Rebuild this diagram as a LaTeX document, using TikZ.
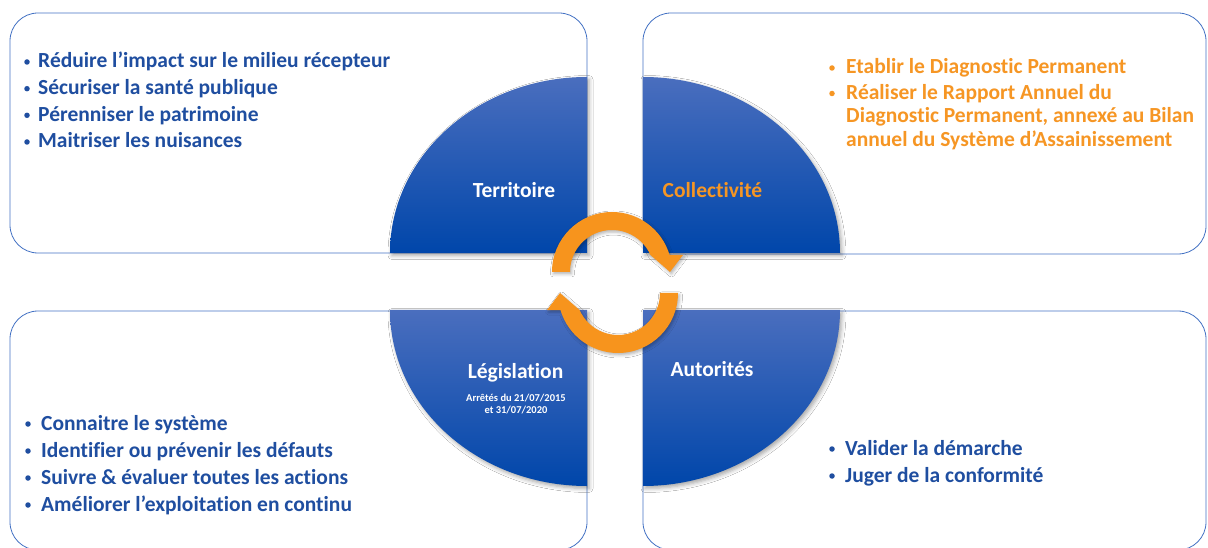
\documentclass[tikz,border=0pt]{standalone}
\usepackage{fontspec}
\setmainfont{Carlito}[Ligatures=NoCommon]
\usetikzlibrary{shadows.blur,calc}
\definecolor{boxblue}{RGB}{68,114,196}
\definecolor{txtblue}{RGB}{31,78,160}
\definecolor{txtorange}{RGB}{246,150,36}
\definecolor{arrorange}{RGB}{247,148,29}
\definecolor{qtop}{RGB}{74,110,190}
\definecolor{qmid}{RGB}{16,82,184}
\definecolor{qbot}{RGB}{0,70,170}
\tikzset{
  panel/.style={draw=boxblue, line width=0.8pt, rounded corners=28pt, fill=white},
  quarter/.style={top color=qtop, middle color=qmid, bottom color=qbot,
    blur shadow={shadow xshift=2pt, shadow yshift=-2.5pt, shadow blur radius=4pt, shadow opacity=35}},
  qlabel/.style={font=\fontsize{21.5}{26}\selectfont\bfseries, text=white, inner sep=0pt, anchor=base},
  qsub/.style={font=\fontsize{10.5}{12}\selectfont\bfseries, text=white, inner sep=0pt, anchor=base},
  btext/.style={font=\fontsize{21.5}{26}\selectfont\bfseries, inner sep=0pt, anchor=base west},
  bdot/.style={circle, inner sep=0pt, minimum size=5.5pt},
  cyclearrow/.style={fill=arrorange,
    blur shadow={shadow xshift=1.5pt, shadow yshift=-2pt, shadow blur radius=3pt, shadow opacity=30}}
}
\begin{document}
\begin{tikzpicture}[x=1pt,y=1pt]
\useasboundingbox (0,0) rectangle (1208,547);
\fill[white] (0,0) rectangle (1208,547);

% panels
\path[panel] (10,294) rectangle (587,534);
\path[panel] (643,293) rectangle (1206,534);
\path[panel] (10,-3) rectangle (587,236);
\path[panel] (643,-3) rectangle (1206,236);

% quarter ellipses
\path[quarter] (587,294) -- (587,470) arc[start angle=90, end angle=180, x radius=197, y radius=176] -- cycle;
\path[quarter] (643,294) -- (840,294) arc[start angle=0, end angle=90, x radius=197, y radius=176] -- cycle;
\path[quarter] (587,237) -- (390,237) arc[start angle=180, end angle=270, x radius=197, y radius=176] -- cycle;
\path[quarter] (643,237) -- (643,61) arc[start angle=270, end angle=360, x radius=197, y radius=176] -- cycle;

% quarter labels
\node[qlabel] (territoire) at (514,349) {Territoire};
\node[qlabel, text=txtorange] (collectivite) at (712.5,349) {Collectivité};
\node[qlabel] (legislation) at (515.5,169) {Législation};
\node[qsub] (arr1) at (516,146) {Arrêtés du 21/07/2015};
\node[qsub] (arr2) at (516,134) {et 31/07/2020};
\node[qlabel] (autorites) at (712,171) {Autorités};

% cycle arrows
\coordinate (c1) at (612,275);
\coordinate (c2) at (618,254);
\path[cyclearrow] ($(c1)+(180:60)$) arc[start angle=180, end angle=16.5, radius=60]
  -- ($(c1)+(13.5:73)$) -- ($(c1)+(0:58)$) -- ($(c1)+(24:42)$)
  arc[start angle=24, end angle=180, radius=42] -- cycle;
\path[cyclearrow] ($(c2)+(0:60)$) arc[start angle=360, end angle=196.5, radius=60]
  -- ($(c2)+(193.5:73)$) -- ($(c2)+(180:58)$) -- ($(c2)+(204:42)$)
  arc[start angle=204, end angle=360, radius=42] -- cycle;

% top-left list
\begin{scope}[every node/.append style={text=txtblue}]
\node[bdot, fill=txtblue] (tlb1) at (27,485) {};
\node[btext] (tl1) at (38,479) {Réduire l’impact sur le milieu récepteur};
\node[bdot, fill=txtblue] (tlb2) at (27,458.3) {};
\node[btext] (tl2) at (38,452.3) {Sécuriser la santé publique};
\node[bdot, fill=txtblue] (tlb3) at (27,431.7) {};
\node[btext] (tl3) at (38,425.7) {Pérenniser le patrimoine};
\node[bdot, fill=txtblue] (tlb4) at (27,405) {};
\node[btext] (tl4) at (38,399) {Maitriser les nuisances};
\end{scope}

% top-right list
\begin{scope}[every node/.append style={text=txtorange}]
\node[bdot, fill=txtorange] (trb1) at (832,479) {};
\node[btext] (tr1) at (846,473) {Etablir le Diagnostic Permanent};
\node[bdot, fill=txtorange] (trb2) at (832,453.5) {};
\node[btext] (tr2a) at (846,447.5) {Réaliser le Rapport Annuel du};
\node[btext] (tr2b) at (846,424) {Diagnostic Permanent, annexé au Bilan};
\node[btext] (tr2c) at (846,400.5) {annuel du Système d’Assainissement};
\end{scope}

% bottom-left list
\begin{scope}[every node/.append style={text=txtblue}]
\node[bdot, fill=txtblue] (blb1) at (28,123) {};
\node[btext] (bl1) at (41,117) {Connaitre le système};
\node[bdot, fill=txtblue] (blb2) at (28,96) {};
\node[btext] (bl2) at (41,90) {Identifier ou prévenir les défauts};
\node[bdot, fill=txtblue] (blb3) at (28,69) {};
\node[btext] (bl3) at (41,63) {Suivre \& évaluer toutes les actions};
\node[bdot, fill=txtblue] (blb4) at (28,42) {};
\node[btext] (bl4) at (41,36) {Améliorer l’exploitation en continu};
\end{scope}

% bottom-right list
\begin{scope}[every node/.append style={text=txtblue}]
\node[bdot, fill=txtblue] (brb1) at (832,98) {};
\node[btext] (br1) at (845,92) {Valider la démarche};
\node[bdot, fill=txtblue] (brb2) at (832,71) {};
\node[btext] (br2) at (845,65) {Juger de la conformité};
\end{scope}
\end{tikzpicture}
\end{document}
